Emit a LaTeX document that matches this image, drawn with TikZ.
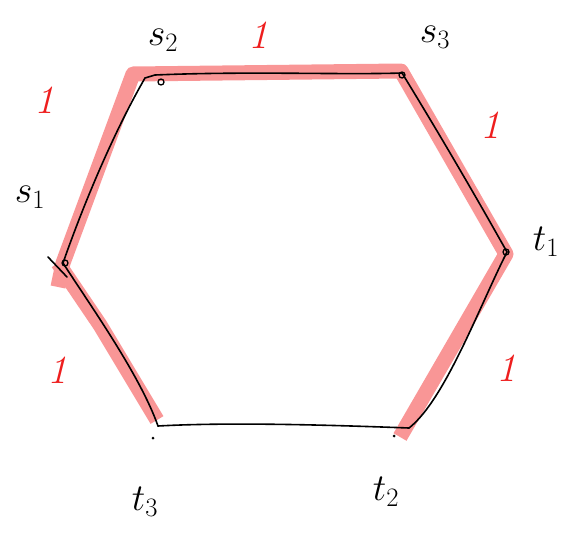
\RequirePackage{fix-cm}
\documentclass[tikz,border=0pt]{standalone}
\usepackage{tikz}
\definecolor{hl}{RGB}{249,150,150}
\definecolor{wred}{RGB}{238,30,30}
\begin{document}
\begin{tikzpicture}[x=1pt,y=-1pt,
  hlpath/.style={draw=hl,line width=15pt,line join=round},
  edgeline/.style={draw=black,line width=1.6pt,line cap=round},
  vlabel/.style={font=\fontsize{38}{42}\selectfont, inner sep=0pt},
  wlabel/.style={font=\fontsize{40}{44}\selectfont\itshape, text=wred, inner sep=0pt},
  vdot/.style={circle,draw=black,line width=1.3pt,inner sep=0pt,minimum size=6pt}]
\useasboundingbox (0,0) rectangle (569,535);
% vertices
\coordinate (s1) at (63,263);
\coordinate (s2) at (145,78);
\coordinate (s3) at (402,73);
\coordinate (t1) at (507,252);
\coordinate (t2) at (409,428);
\coordinate (t3) at (158,426);
% highlights
\draw[hlpath,line cap=butt] (58,287) -- (63,263) -- (133,74) -- (401,71) -- (506,254) -- (400,437);
\draw[hlpath,line cap=butt] (58,263) -- (100,325) -- (157,420);
% black edges
\draw[edgeline] (s1) .. controls (85,200) and (115,130) .. (s2) -- (155,75) .. controls (250,71) and (340,75) .. (s3);
\draw[edgeline] (s3) .. controls (440,135) and (475,195) .. (t1);
\draw[edgeline] (t1) .. controls (480,305) and (445,400) .. (t2);
\draw[edgeline] (t2) .. controls (330,425) and (230,422) .. (t3);
\draw[edgeline] (s1) .. controls (90,305) and (140,375) .. (t3);
\draw[edgeline] (48,257) -- (67,277);
% vertex dots
\node[vdot] (d1) at (65,263) {};
\node[vdot] (d2) at (161,82) {};
\node[vdot] (d3) at (402,75) {};
\node[vdot] (d4) at (506,252) {};
\fill (153,438) circle (1.5pt);
\fill (394,436) circle (1.5pt);
% labels
\node[vlabel] (ls1) at (30,197) {$s_1$};
\node[vlabel] (ls2) at (163,40) {$s_2$};
\node[vlabel] (ls3) at (435,37) {$s_3$};
\node[vlabel] (lt1) at (546,242) {$t_1$};
\node[vlabel] (lt2) at (386,492) {$t_2$};
\node[vlabel] (lt3) at (145,502) {$t_3$};
\node[wlabel] (w1) at (258,35) {1};
\node[wlabel] (w2) at (44,100) {1};
\node[wlabel] (w3) at (490,125) {1};
\node[wlabel] (w4) at (506,368) {1};
\node[wlabel] (w5) at (57,370) {1};
\end{tikzpicture}
\end{document}
